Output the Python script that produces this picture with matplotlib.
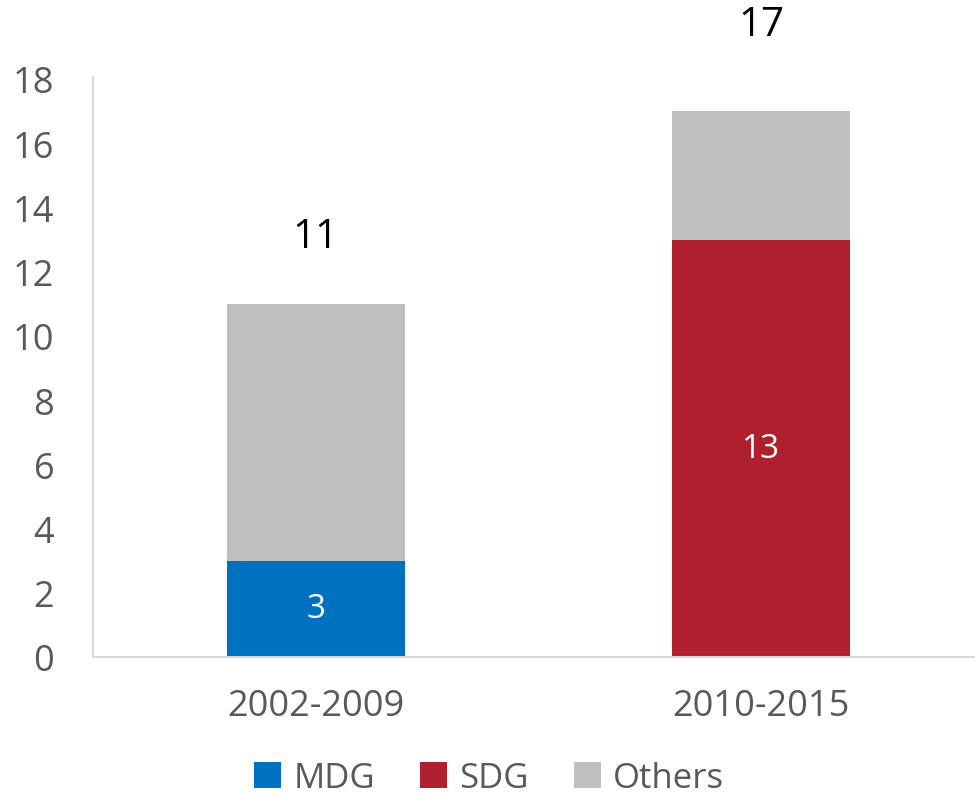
import matplotlib.pyplot as plt
import numpy as np

plt.rcParams['font.family'] = ['Open Sans', 'DejaVu Sans']

periods = ['2002-2009', '2010-2015']
mdg = [3, 0]
sdg = [0, 13]
others = [8, 4]
totals = [11, 17]

colors = {'MDG': '#0070C0', 'SDG': '#B01F2E', 'Others': '#BFBFBF'}

fig = plt.figure(figsize=(9.75, 8.04), dpi=100)
ax = fig.add_axes([0.0954, 0.1816, 0.9046, 0.7189])

x = np.arange(len(periods))
w = 0.4
ax.bar(x, mdg, w, color=colors['MDG'], label='MDG')
ax.bar(x, sdg, w, bottom=mdg, color=colors['SDG'], label='SDG')
base = np.array(mdg) + np.array(sdg)
ax.bar(x, others, w, bottom=base, color=colors['Others'], label='Others')

# values inside the coloured segments
for i in range(len(periods)):
    if mdg[i]:
        ax.text(x[i], mdg[i] / 2, str(mdg[i]), ha='center', va='center',
                color='white', fontsize=24)
    if sdg[i]:
        ax.text(x[i], mdg[i] + sdg[i] / 2, str(sdg[i]), ha='center', va='center',
                color='white', fontsize=24)

# totals above the bars
offsets = [48, 62]
for i in range(len(periods)):
    ax.annotate(str(totals[i]), (x[i], totals[i]), xytext=(0, offsets[i]),
                textcoords='offset points', ha='center', va='center',
                fontsize=29, color='black', annotation_clip=False)

ax.set_xlim(-0.5, 1.48)
ax.set_ylim(0, 18)
ax.set_yticks(range(0, 19, 2))
ax.set_xticks(x)
ax.set_xticklabels(periods)
ax.tick_params(axis='both', length=0, labelsize=26, colors='#595959')
ax.tick_params(axis='x', pad=22)
ax.tick_params(axis='y', pad=28)
for s in ['top', 'right']:
    ax.spines[s].set_visible(False)
for s in ['left', 'bottom']:
    ax.spines[s].set_color('#D9D9D9')
    ax.spines[s].set_linewidth(1.5)
ax.spines['left'].set_bounds(0, 18.05)

ax.legend(loc='center', bbox_to_anchor=(0.449, -0.21), ncol=3, frameon=False,
          fontsize=25, handlelength=0.78, handleheight=0.78, handletextpad=0.35,
          columnspacing=1.3, labelcolor='#595959', borderaxespad=0, borderpad=0)

fig.savefig('out.png', dpi=100)
